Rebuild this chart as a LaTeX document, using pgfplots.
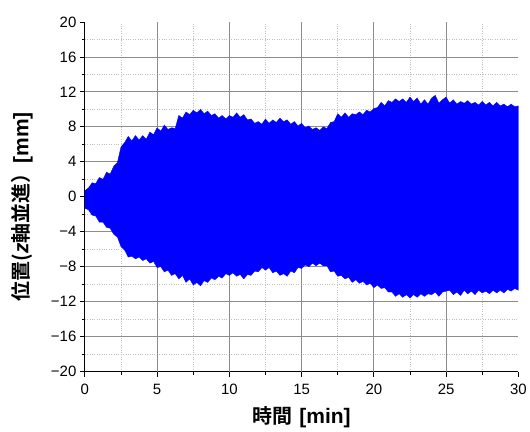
\documentclass[border=0pt]{standalone}
\usepackage{fontspec}
\setmainfont{Liberation Sans}
\newfontfamily\jp{Noto Sans CJK JP Bold}
\usepackage{pgfplots}
\pgfplotsset{compat=1.18}
\usetikzlibrary{calc}

\begin{document}
\begin{tikzpicture}
\begin{axis}[
    scale only axis,
    width=434pt, height=350pt,
    xmin=0, xmax=30, ymin=-20, ymax=20,
    axis lines*=left,
    axis line style={black, line width=0.8pt},
    xtick={0,5,...,30},
    xticklabels={0,5,10,15,20,25,30},
    ytick={-20,-16,...,20},
    yticklabels={−20,−16,−12,−8,−4,0,4,8,12,16,20},
    minor x tick num=1, minor y tick num=1,
    tick align=outside,
    major tick length=5pt, minor tick length=3pt,
    tick style={black, line width=0.8pt},
    xminorgrids, yminorgrids,
    minor grid style={black!25, dotted, line width=0.6pt},
    major grid style={black!45, line width=0.8pt},
    extra x ticks={5,10,15,20,25}, extra x tick labels={,,,,},
    extra x tick style={grid=major, major tick length=0pt},
    extra y ticks={-16,-12,-8,-4,0,4,8,12,16}, extra y tick labels={,,,,,,,,},
    extra y tick style={grid=major, major tick length=0pt},
    ticklabel style={font=\fontsize{15}{15}\selectfont},
    xticklabel style={yshift=-4pt},
    xlabel={{\jp\fontsize{20}{20}\selectfont 時間}\hspace{7pt}{\fontsize{21}{21}\selectfont\bfseries [min]}},
    ylabel={{\jp\fontsize{20}{20}\selectfont 位置(}{\fontsize{21}{21}\selectfont\bfseries\itshape z}{\jp\fontsize{20}{20}\selectfont 軸並進）}{\fontsize{21}{21}\selectfont\bfseries [mm]}},
    xlabel style={at={(axis description cs:0.5,-0.131)}, anchor=center},
    ylabel style={at={(axis description cs:-0.145,0.471)}, anchor=center},
]

% envelope of the oscillation: upper edge left to right, lower edge right to left
\addplot[fill=blue, draw=blue, line width=0.4pt] coordinates {
    (0,0.7) (0.25,1.0) (0.5,1.6) (0.75,1.5) (1,2.2) (1.25,2.0) (1.5,2.8) (1.75,2.6)
    (2,3.5) (2.25,3.9) (2.5,5.7) (2.75,6.2) (3,6.9) (3.25,6.4) (3.5,7.0) (3.75,6.5)
    (4,7.0) (4.25,6.6) (4.5,7.4) (4.75,7.1) (5,7.9) (5.25,7.5) (5.5,8.2) (5.75,7.7)
    (6,7.9) (6.25,7.8) (6.5,9.3) (6.75,9.0) (7,9.7) (7.25,9.4) (7.5,9.9) (7.75,9.6)
    (8,10.0) (8.25,9.5) (8.5,9.8) (8.75,9.3) (9,9.5) (9.25,9.0) (9.5,9.3) (9.75,8.9)
    (10,9.3) (10.25,9.1) (10.5,9.6) (10.75,9.1) (11,9.4) (11.25,8.8) (11.5,8.9) (11.75,8.4)
    (12,8.6) (12.25,8.3) (12.5,8.9) (12.75,8.4) (13,8.8) (13.25,8.5) (13.5,9.0) (13.75,8.6)
    (14,8.8) (14.25,8.3) (14.5,8.6) (14.75,8.1) (15,8.4) (15.25,7.9) (15.5,8.1) (15.75,7.7)
    (16,7.9) (16.25,7.6) (16.5,8.0) (16.75,7.8) (17,8.5) (17.25,8.6) (17.5,9.5) (17.75,9.1)
    (18,9.6) (18.25,9.1) (18.5,9.5) (18.75,9.4) (19,9.7) (19.25,9.4) (19.5,9.9) (19.75,9.7)
    (20,10.1) (20.25,10.2) (20.5,10.8) (20.75,10.4) (21,11.0) (21.25,10.8) (21.5,11.2) (21.75,10.9)
    (22,11.2) (22.25,10.8) (22.5,11.4) (22.75,10.9) (23,11.3) (23.25,10.6) (23.5,11.1) (23.75,10.6)
    (24,11.3) (24.25,11.6) (24.5,10.7) (24.75,11.1) (25,11.4) (25.25,10.7) (25.5,11.1) (25.75,10.6)
    (26,10.9) (26.25,10.7) (26.5,11.0) (26.75,10.6) (27,10.8) (27.25,10.5) (27.5,10.9) (27.75,10.5)
    (28,10.8) (28.25,10.4) (28.5,10.8) (28.75,10.4) (29,10.6) (29.25,10.3) (29.5,10.6) (29.75,10.3)
    (30,10.4)
    (30,-10.7) (29.75,-10.5) (29.5,-10.8) (29.25,-10.6) (29,-11.0) (28.75,-10.7) (28.5,-11.0) (28.25,-10.7)
    (28,-11.1) (27.75,-10.8) (27.5,-11.0) (27.25,-10.7) (27,-11.2) (26.75,-10.8) (26.5,-11.1) (26.25,-10.7)
    (26,-11.3) (25.75,-10.9) (25.5,-11.2) (25.25,-10.7) (25,-10.8) (24.75,-10.9) (24.5,-11.4) (24.25,-10.9)
    (24,-11.2) (23.75,-11.1) (23.5,-11.4) (23.25,-11.1) (23,-11.5) (22.75,-11.2) (22.5,-11.6) (22.25,-11.2)
    (22,-11.5) (21.75,-11.1) (21.5,-11.4) (21.25,-10.9) (21,-10.9) (20.75,-10.4) (20.5,-10.5) (20.25,-10.1)
    (20,-10.4) (19.75,-9.9) (19.5,-10.1) (19.25,-9.7) (19,-9.9) (18.75,-9.5) (18.5,-9.8) (18.25,-9.2)
    (18,-9.4) (17.75,-9.0) (17.5,-9.1) (17.25,-8.5) (17,-8.6) (16.75,-7.9) (16.5,-7.9) (16.25,-7.6)
    (16,-7.9) (15.75,-7.6) (15.5,-8.0) (15.25,-7.8) (15,-8.2) (14.75,-8.1) (14.5,-8.7) (14.25,-8.5)
    (14,-9.1) (13.75,-8.8) (13.5,-9.0) (13.25,-8.5) (13,-8.7) (12.75,-8.1) (12.5,-8.4) (12.25,-8.1)
    (12,-8.6) (11.75,-8.5) (11.5,-9.0) (11.25,-8.9) (11,-9.4) (10.75,-8.9) (10.5,-9.1) (10.25,-8.7)
    (10,-9.0) (9.75,-8.8) (9.5,-9.3) (9.25,-9.1) (9,-9.5) (8.75,-9.3) (8.5,-9.8) (8.25,-9.6)
    (8,-10.2) (7.75,-9.8) (7.5,-10.1) (7.25,-9.4) (7,-9.8) (6.75,-9.0) (6.5,-9.4) (6.25,-8.8)
    (6,-9.0) (5.75,-8.4) (5.5,-8.6) (5.25,-8.0) (5,-8.1) (4.75,-7.4) (4.5,-7.6) (4.25,-7.1)
    (4,-7.3) (3.75,-6.9) (3.5,-7.1) (3.25,-6.8) (3,-6.9) (2.75,-6.1) (2.5,-5.7) (2.25,-4.6)
    (2,-4.3) (1.75,-3.6) (1.5,-3.5) (1.25,-2.9) (1,-2.9) (0.75,-2.2) (0.5,-2.1) (0.25,-1.5)
    (0,-1.3)
};

\end{axis}
\path ($(current axis.south west)+(-85pt,-60pt)$) rectangle ($(current axis.north east)+(11pt,22pt)$);
\end{tikzpicture}
\end{document}
